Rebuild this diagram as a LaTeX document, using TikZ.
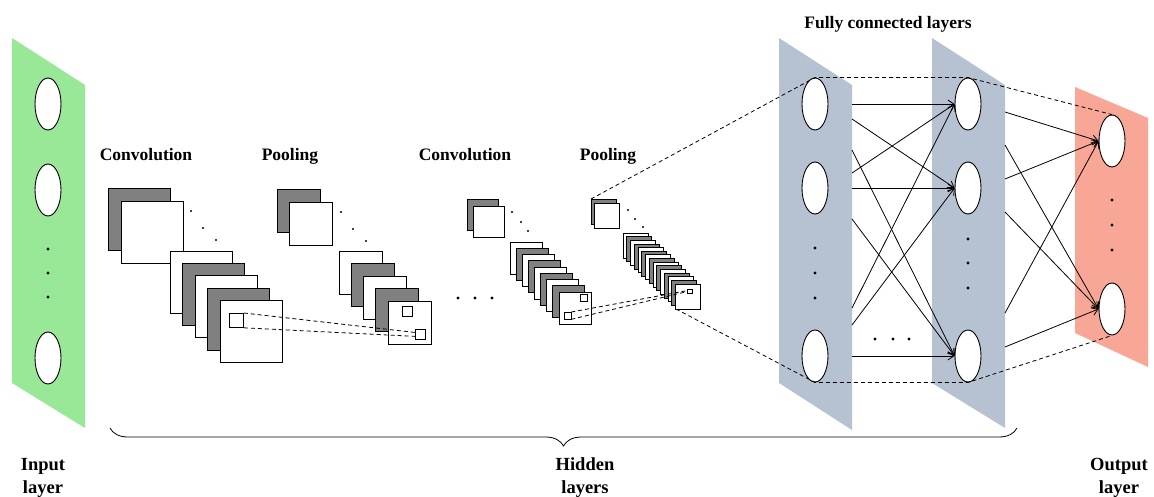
\documentclass[tikz,border=0pt]{standalone}
\usepackage{fontspec}
\setmainfont{Liberation Serif}
\usetikzlibrary{shapes.geometric,arrows.meta,decorations.pathreplacing}
\definecolor{ingreen}{RGB}{152,232,152}
\definecolor{fcblue}{RGB}{182,193,210}
\definecolor{outred}{RGB}{248,166,150}
\definecolor{mapgray}{RGB}{128,128,128}
\newcommand\fmsq[4]{\draw[line width=0.8pt, fill=#4] (#1,#2) rectangle ++(#3,#3);}
\newcommand\mapstack[6]{% x0 y0 dx dy size count-1
  \foreach \i [evaluate=\i as \fx using #1+#3*\i, evaluate=\i as \fy using #2+#4*\i] in {0,...,#6} {%
    \ifodd\i \def\fc{mapgray}\else\def\fc{white}\fi
    \fmsq{\fx}{\fy}{#5}{\fc}}}
\begin{document}
\begin{tikzpicture}[x=1pt,y=-1pt,
  neuron/.style={ellipse, draw, fill=white, line width=0.9pt, minimum width=26pt, minimum height=52pt, inner sep=0pt},
  smallsq/.style={draw, fill=white, line width=0.8pt, inner sep=0pt, anchor=north west},
  lbl/.style={font=\fontsize{17.5}{20}\selectfont\bfseries, anchor=base, inner sep=0pt},
  lblb/.style={font=\fontsize{18.5}{22}\selectfont\bfseries, anchor=base, inner sep=0pt},
  dashln/.style={dash pattern=on 4pt off 3pt, line width=0.8pt},
  conn/.style={-{Straight Barb[length=6pt,width=8pt]}, line width=0.8pt},
  dotmark/.style={fill=black}]
\useasboundingbox (0,0) rectangle (1154,496);

% panels
\fill[ingreen] (12,38) -- (85,85) -- (85,428) -- (12,383) -- cycle;
\fill[fcblue] (779,38) -- (852,85) -- (852,430) -- (779,383) -- cycle;
\fill[fcblue] (932,38) -- (1005,85) -- (1005,428) -- (932,383) -- cycle;
\fill[outred] (1075,87) -- (1148,118) -- (1148,367) -- (1075,333) -- cycle;

% neurons
\node[neuron] (in1) at (48,104) {};
\node[neuron] (in2) at (48,190) {};
\node[neuron] (in3) at (48,358) {};
\node[neuron] (fc1a) at (815,104) {};
\node[neuron] (fc1b) at (815,188) {};
\node[neuron] (fc1c) at (815,356) {};
\node[neuron] (fc2a) at (968,104) {};
\node[neuron] (fc2b) at (968,188) {};
\node[neuron] (fc2c) at (968,356) {};
\node[neuron] (oa) at (1112,141) {};
\node[neuron] (ob) at (1112,309) {};

% vertical dots
\foreach \y in {249,273,297} \fill (48,\y) circle[radius=1.7pt];
\foreach \y in {248,273,298} \fill (815,\y) circle[radius=1.7pt];
\foreach \y in {239,263,288} \fill (968,\y) circle[radius=1.7pt];
\foreach \y in {200,225,250} \fill (1112,\y) circle[radius=1.7pt];
\foreach \x in {875,893,909} \fill (\x,339) circle[radius=1.7pt];

% corner coordinates of last pooling stage
\coordinate (p2tl) at (591,199);
\coordinate (p2bl) at (676,309);

% dashed lines towards fully connected part
\draw[dashln] (p2tl) -- (fc1a.north) -- (fc2a.north) -- (oa.north);
\draw[dashln] (p2bl) -- (fc1c.south) -- (fc2c.south) -- (ob.south);

% convolution 1
\fmsq{108}{188}{62}{mapgray}
\fmsq{121}{201}{62}{white}
\mapstack{170}{251}{12.5}{12.3}{62}{4}
\node[smallsq, minimum size=14pt] (c1s) at (229,313) {};
\foreach \p in {(191,211),(203,228),(216,240)} \fill \p circle[radius=1.2pt];

% pooling 1
\fmsq{277}{189}{43}{mapgray}
\fmsq{289}{202}{43}{white}
\mapstack{339}{251}{12.25}{12.5}{43}{4}
\node[smallsq, minimum size=10pt] (p1st) at (402,306) {};
\node[smallsq, minimum size=10pt] (p1sb) at (415,329) {};
\foreach \p in {(341,212),(353,229),(366,241)} \fill \p circle[radius=1.2pt];
\draw[dashln] (c1s.north east) -- (p1sb.160);
\draw[dashln] (c1s.south east) -- (p1sb.200);

% middle dots
\foreach \x in {458,475,492} \fill (\x,298) circle[radius=1.6pt];

% convolution 2
\fmsq{467}{199}{31}{mapgray}
\fmsq{473}{206}{31}{white}
\mapstack{510}{242}{6.125}{6.25}{32}{8}
\node[smallsq, minimum size=6.5pt] (c2st) at (580,294) {};
\node[smallsq, minimum size=6.5pt] (c2sb) at (564,312) {};
\foreach \p in {(512,212),(521,222),(528,231)} \fill \p circle[radius=1.2pt];

% pooling 2
\fmsq{591}{199}{25}{mapgray}
\fmsq{594}{203}{25}{white}
\mapstack{623}{233}{3.76}{3.64}{25}{14}
\node[smallsq, minimum size=4.5pt] (p2s) at (687,288.5) {};
\foreach \p in {(628,210),(635,219),(643,227)} \fill \p circle[radius=1.2pt];
\draw[dashln] (c2sb.north east) -- (p2s.170);
\draw[dashln] (c2sb.south east) -- (p2s.190);

% fully connected arrows
\coordinate (s1) at (852,104); \coordinate (s2) at (852,119); \coordinate (s3) at (852,150);
\coordinate (s4) at (852,173); \coordinate (s5) at (852,188); \coordinate (s6) at (852,219);
\coordinate (s7) at (852,308); \coordinate (s8) at (852,325); \coordinate (s9) at (852,356);
\draw[conn] (s1) -- (fc2a.west);
\draw[conn] (s2) -- (fc2b.west);
\draw[conn] (s3) -- (fc2c.west);
\draw[conn] (s4) -- (fc2a.west);
\draw[conn] (s5) -- (fc2b.west);
\draw[conn] (s6) -- (fc2c.west);
\draw[conn] (s7) -- (fc2a.west);
\draw[conn] (s8) -- (fc2b.west);
\draw[conn] (s9) -- (fc2c.west);
\coordinate (r1) at (1005,112); \coordinate (r2) at (1005,145); \coordinate (r3) at (1005,179);
\coordinate (r4) at (1005,212); \coordinate (r5) at (1005,313); \coordinate (r6) at (1005,347);
\draw[conn] (r1) -- (oa.west);
\draw[conn] (r2) -- (ob.west);
\draw[conn] (r3) -- (oa.west);
\draw[conn] (r4) -- (ob.west);
\draw[conn] (r5) -- (oa.west);
\draw[conn] (r6) -- (ob.west);

% brace
\coordinate (bl) at (110,428);
\coordinate (br) at (1017,428);
\draw[line width=0.8pt, decorate, decoration={brace, amplitude=18pt, mirror}] (bl) -- (br);

% labels
\node[lbl] (tc1) at (146,160) {Convolution};
\node[lbl] (tp1) at (290,160) {Pooling};
\node[lbl] (tc2) at (465,160) {Convolution};
\node[lbl] (tp2) at (608,160) {Pooling};
\node[lbl] (tfc) at (888,28) {Fully connected layers};
\node[lblb] (ti1) at (43,470) {Input};
\node[lblb] (ti2) at (43,493) {layer};
\node[lblb] (th1) at (585,470) {Hidden};
\node[lblb] (th2) at (585,493) {layers};
\node[lblb] (to1) at (1119,470) {Output};
\node[lblb] (to2) at (1119,493) {layer};
\end{tikzpicture}
\end{document}
